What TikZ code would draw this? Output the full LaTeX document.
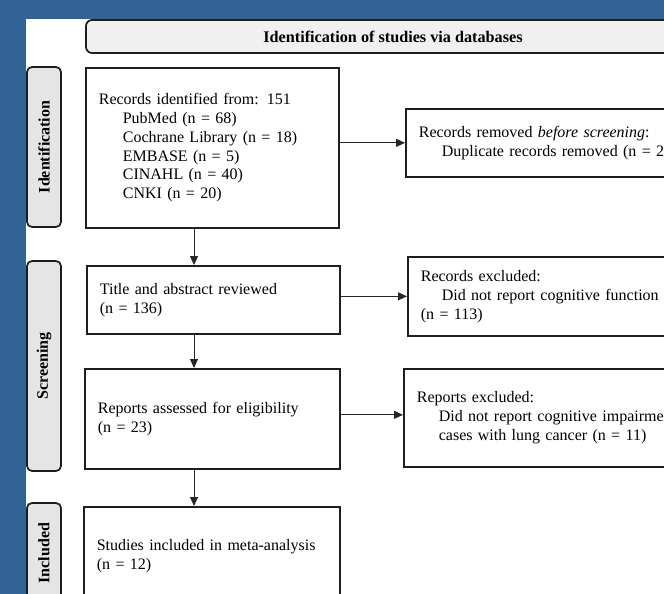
\documentclass[tikz,border=0pt]{standalone}
\usepackage{fontspec}
\setmainfont{Liberation Serif}
\usetikzlibrary{arrows.meta,calc}
\definecolor{bgblue}{RGB}{49,99,150}
\definecolor{hdrfill}{RGB}{240,240,240}
\definecolor{sidefill}{RGB}{229,229,229}
\definecolor{edgecol}{RGB}{30,30,30}
\begin{document}
\begin{tikzpicture}[x=1pt,y=-1pt,
  box/.style={draw=edgecol, line width=1.7pt, fill=white, rectangle, anchor=north west,
    inner xsep=13pt, inner ysep=0pt, align=left, font=\fontsize{16}{19}\selectfont},
  sidebox/.style={draw=edgecol, line width=1.7pt, fill=sidefill, rounded corners=5pt,
    inner sep=0pt, rotate=90, minimum height=34pt, font=\bfseries\fontsize{16}{19}\selectfont},
  hdrbox/.style={draw=edgecol, line width=1.7pt, fill=hdrfill, rounded corners=6pt,
    inner sep=0pt, minimum width=614pt, minimum height=33pt, font=\bfseries\fontsize{16.2}{19}\selectfont},
  arr/.style={draw=black!85, line width=0.9pt, -{Triangle[length=9pt,width=8pt]}}
]
\useasboundingbox (0,0) rectangle (664,594);
\clip (0,0) rectangle (664,594);
\fill[bgblue] (0,0) rectangle (664,594);
\fill[white] (26,19) rectangle (664,594);

% header
\node[hdrbox] (hdr) at (393,36.5) {Identification of studies via databases};

% side labels
\node[sidebox, minimum width=160pt] (sid1) at (44,147) {Identification};
\node[sidebox, minimum width=210pt] (sid2) at (44,366) {Screening};
\node[sidebox, minimum width=100pt] (sid3) at (44,553) {Included};

% main boxes
\node[box, text width=227pt, minimum height=160pt, font=\fontsize{16}{18.8}\selectfont] (b1) at (85,67)
  {Records identified from: 151\\
   \hspace*{24pt}PubMed (n = 68)\\
   \hspace*{24pt}Cochrane Library (n = 18)\\
   \hspace*{24pt}EMBASE (n = 5)\\
   \hspace*{24pt}CINAHL (n = 40)\\
   \hspace*{24pt}CNKI (n = 20)};
\node[box, text width=294pt, minimum height=68pt] (b2) at (405,108)
  {Records removed \textit{before screening}:\\
   \hspace*{23pt}Duplicate records removed (n = 20)};
\node[box, text width=227pt, minimum height=68pt] (b3) at (86,265)
  {Title and abstract reviewed\\(n = 136)};
\node[box, text width=294pt, minimum height=79pt] (b4) at (407,256)
  {Records excluded:\\
   \hspace*{21pt}Did not report cognitive function\\
   (n = 113)};
\node[box, text width=229pt, minimum height=100pt] (b5) at (84,368)
  {Reports assessed for eligibility\\(n = 23)};
\node[box, text width=294pt, minimum height=98pt] (b6) at (403,368)
  {Reports excluded:\\
   \hspace*{22pt}Did not report cognitive impairment\\
   \hspace*{22pt}cases with lung cancer (n = 11)};
\node[box, text width=230pt, minimum height=98pt] (b7) at (83,506)
  {Studies included in meta-analysis\\(n = 12)};

% connectors
\coordinate (ax) at (194,0);
\draw[arr] (b1.south -| ax) -- (b3.north -| ax);
\draw[arr] (b3.south -| ax) -- (b5.north -| ax);
\draw[arr] (b5.south -| ax) -- (b7.north -| ax);
\draw[arr] (b1.east |- b2.west) -- (b2.west);
\draw[arr] (b3.east |- b4.west) -- (b4.west);
\draw[arr] ($(b5.east |- b6.west)+(0,-3)$) -- ($(b6.west)+(0,-3)$);
\end{tikzpicture}
\end{document}
